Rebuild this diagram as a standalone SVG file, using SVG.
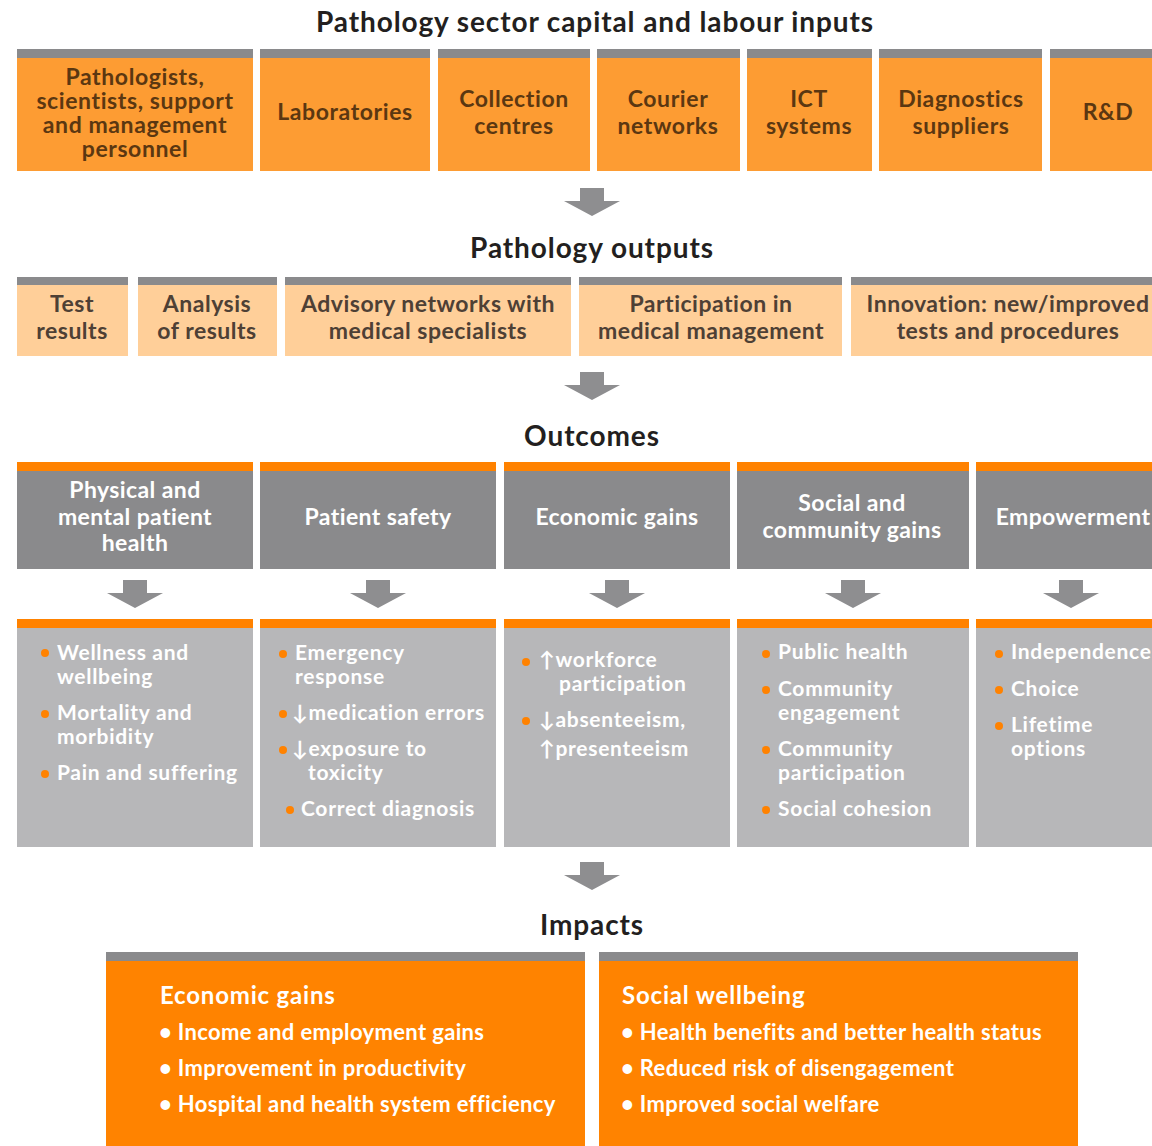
<svg xmlns="http://www.w3.org/2000/svg" width="1152" height="1146" viewBox="0 0 1152 1146">
<defs>
<style>
text{font-family:Lato,"Open Sans","Liberation Sans",sans-serif;font-weight:bold}
.title{font-size:28px;letter-spacing:0.9px;fill:#231f20;text-anchor:middle}
.in{fill:#fd9c33}
.out{fill:#ffcf99}
.bar{fill:#8a8a8c}
.obar{fill:#ff8200}
.hd{fill:#8a8a8c}
.bl{fill:#b7b7b9}
.imp{fill:#ff8300}
.t1{font-size:23px;letter-spacing:0.6px;fill:#5b3711;text-anchor:middle}
.t2{font-size:23px;letter-spacing:0.5px;fill:#4e4035;text-anchor:middle}
.t3{font-size:23px;letter-spacing:0.4px;fill:#fff;text-anchor:middle}
.t4{font-size:21px;letter-spacing:0.7px;fill:#fff}
.t5{font-size:22px;letter-spacing:0.35px;fill:#fff}
.t6{font-size:24px;letter-spacing:0.8px;fill:#fff}
.dot{fill:#ff8200}
.arr{fill:#8e8e90}
</style>
<path id="arrow" d="M-12,0 H12 V13 H28 L0,28 L-28,13 H-12 Z"/>
</defs>

<text class="title" x="595" y="32">Pathology sector capital and labour inputs</text>
<text class="title" x="592" y="258">Pathology outputs</text>
<text class="title" x="592" y="446">Outcomes</text>
<text class="title" x="592" y="935">Impacts</text>

<!-- Row 1: inputs -->
<g id="in-personnel"><rect class="bar" x="17" y="49" width="236" height="9"/><rect class="in" x="17" y="58" width="236" height="113"/>
<text class="t1" x="135"><tspan x="135" y="85">Pathologists,</tspan><tspan x="135" y="109">scientists, support</tspan><tspan x="135" y="133">and management</tspan><tspan x="135" y="157">personnel</tspan></text></g>
<g id="in-labs"><rect class="bar" x="260" y="49" width="170" height="9"/><rect class="in" x="260" y="58" width="170" height="113"/>
<text class="t1" x="345" y="120">Laboratories</text></g>
<g id="in-collection"><rect class="bar" x="438" y="49" width="152" height="9"/><rect class="in" x="438" y="58" width="152" height="113"/>
<text class="t1"><tspan x="514" y="107">Collection</tspan><tspan x="514" y="134">centres</tspan></text></g>
<g id="in-courier"><rect class="bar" x="597" y="49" width="143" height="9"/><rect class="in" x="597" y="58" width="143" height="113"/>
<text class="t1"><tspan x="668" y="107">Courier</tspan><tspan x="668" y="134">networks</tspan></text></g>
<g id="in-ict"><rect class="bar" x="747" y="49" width="125" height="9"/><rect class="in" x="747" y="58" width="125" height="113"/>
<text class="t1"><tspan x="809" y="107">ICT</tspan><tspan x="809" y="134">systems</tspan></text></g>
<g id="in-diag"><rect class="bar" x="879" y="49" width="163" height="9"/><rect class="in" x="879" y="58" width="163" height="113"/>
<text class="t1"><tspan x="961" y="107">Diagnostics</tspan><tspan x="961" y="134">suppliers</tspan></text></g>
<g id="in-rd"><rect class="bar" x="1050" y="49" width="102" height="9"/><rect class="in" x="1050" y="58" width="102" height="113"/>
<text class="t1" x="1108" y="120">R&amp;D</text></g>

<!-- Row 2: outputs -->
<g id="out-test"><rect class="bar" x="17" y="277" width="111" height="8"/><rect class="out" x="17" y="285" width="111" height="71"/>
<text class="t2"><tspan x="72" y="312">Test</tspan><tspan x="72" y="339">results</tspan></text></g>
<g id="out-analysis"><rect class="bar" x="138" y="277" width="139" height="8"/><rect class="out" x="138" y="285" width="139" height="71"/>
<text class="t2"><tspan x="207" y="312">Analysis</tspan><tspan x="207" y="339">of results</tspan></text></g>
<g id="out-advisory"><rect class="bar" x="285" y="277" width="286" height="8"/><rect class="out" x="285" y="285" width="286" height="71"/>
<text class="t2"><tspan x="428" y="312">Advisory networks with</tspan><tspan x="428" y="339">medical specialists</tspan></text></g>
<g id="out-participation"><rect class="bar" x="579" y="277" width="263" height="8"/><rect class="out" x="579" y="285" width="263" height="71"/>
<text class="t2"><tspan x="711" y="312">Participation in</tspan><tspan x="711" y="339">medical management</tspan></text></g>
<g id="out-innovation"><rect class="bar" x="851" y="277" width="301" height="8"/><rect class="out" x="851" y="285" width="301" height="71"/>
<text class="t2"><tspan x="1008" y="312">Innovation: new/improved</tspan><tspan x="1008" y="339">tests and procedures</tspan></text></g>

<!-- Row 3: outcome headers -->
<g id="oc-health"><rect class="obar" x="17" y="462" width="236" height="9"/><rect class="hd" x="17" y="471" width="236" height="98"/>
<text class="t3"><tspan x="135" y="498">Physical and</tspan><tspan x="135" y="525">mental patient</tspan><tspan x="135" y="551">health</tspan></text></g>
<g id="oc-safety"><rect class="obar" x="260" y="462" width="236" height="9"/><rect class="hd" x="260" y="471" width="236" height="98"/>
<text class="t3" x="378" y="525">Patient safety</text></g>
<g id="oc-economic"><rect class="obar" x="504" y="462" width="226" height="9"/><rect class="hd" x="504" y="471" width="226" height="98"/>
<text class="t3" x="617" y="525">Economic gains</text></g>
<g id="oc-social"><rect class="obar" x="737" y="462" width="232" height="9"/><rect class="hd" x="737" y="471" width="232" height="98"/>
<text class="t3"><tspan x="852" y="511">Social and</tspan><tspan x="852" y="538">community gains</tspan></text></g>
<g id="oc-empower"><rect class="obar" x="976" y="462" width="176" height="9"/><rect class="hd" x="976" y="471" width="176" height="98"/>
<text class="t3" x="1073" y="525">Empowerment</text></g>

<!-- Row 4: outcome details -->
<g id="od-health"><rect class="obar" x="17" y="619" width="236" height="9"/><rect class="bl" x="17" y="628" width="236" height="219"/>
<circle class="dot" cx="45" cy="653" r="4"/><circle class="dot" cx="45" cy="714" r="4"/><circle class="dot" cx="45" cy="774" r="4"/>
<text class="t4"><tspan x="57" y="660">Wellness and</tspan><tspan x="57" y="684">wellbeing</tspan><tspan x="57" y="720">Mortality and</tspan><tspan x="57" y="744">morbidity</tspan><tspan x="57" y="780">Pain and suffering</tspan></text></g>
<g id="od-safety"><rect class="obar" x="260" y="619" width="236" height="9"/><rect class="bl" x="260" y="628" width="236" height="219"/>
<circle class="dot" cx="283" cy="654" r="4"/><circle class="dot" cx="283" cy="714" r="4"/><circle class="dot" cx="283" cy="750" r="4"/><circle class="dot" cx="290" cy="810" r="4"/>
<text class="t4"><tspan x="295" y="660">Emergency</tspan><tspan x="295" y="684">response</tspan><tspan x="292" y="720">↓medication errors</tspan><tspan x="292" y="756">↓exposure to</tspan><tspan x="308" y="780">toxicity</tspan><tspan x="301" y="816">Correct diagnosis</tspan></text></g>
<g id="od-economic"><rect class="obar" x="504" y="619" width="226" height="9"/><rect class="bl" x="504" y="628" width="226" height="219"/>
<circle class="dot" cx="526" cy="662" r="4"/><circle class="dot" cx="526" cy="721" r="4"/>
<text class="t4"><tspan x="539" y="667">↑workforce</tspan><tspan x="559" y="691">participation</tspan><tspan x="539" y="727">↓absenteeism,</tspan><tspan x="539" y="756">↑presenteeism</tspan></text></g>
<g id="od-social"><rect class="obar" x="737" y="619" width="232" height="9"/><rect class="bl" x="737" y="628" width="232" height="219"/>
<circle class="dot" cx="766" cy="654" r="4"/><circle class="dot" cx="766" cy="690" r="4"/><circle class="dot" cx="766" cy="750" r="4"/><circle class="dot" cx="766" cy="810" r="4"/>
<text class="t4"><tspan x="778" y="659">Public health</tspan><tspan x="778" y="696">Community</tspan><tspan x="778" y="720">engagement</tspan><tspan x="778" y="756">Community</tspan><tspan x="778" y="780">participation</tspan><tspan x="778" y="816">Social cohesion</tspan></text></g>
<g id="od-empower"><rect class="obar" x="976" y="619" width="176" height="9"/><rect class="bl" x="976" y="628" width="176" height="219"/>
<circle class="dot" cx="999" cy="654" r="4"/><circle class="dot" cx="999" cy="690" r="4"/><circle class="dot" cx="999" cy="726" r="4"/>
<text class="t4"><tspan x="1011" y="659">Independence</tspan><tspan x="1011" y="696">Choice</tspan><tspan x="1011" y="732">Lifetime</tspan><tspan x="1011" y="756">options</tspan></text></g>

<!-- Impacts -->
<g id="imp-economic"><rect class="bar" x="106" y="952" width="479" height="9"/><rect class="imp" x="106" y="961" width="479" height="185"/>
<text class="t6" x="160" y="1004">Economic gains</text>
<text class="t5"><tspan x="159" y="1040">• Income and employment gains</tspan><tspan x="159" y="1076">• Improvement in productivity</tspan><tspan x="159" y="1112">• Hospital and health system efficiency</tspan></text></g>
<g id="imp-social"><rect class="bar" x="599" y="952" width="479" height="9"/><rect class="imp" x="599" y="961" width="479" height="185"/>
<text class="t6" x="622" y="1004">Social wellbeing</text>
<text class="t5"><tspan x="621" y="1040">• Health benefits and better health status</tspan><tspan x="621" y="1076">• Reduced risk of disengagement</tspan><tspan x="621" y="1112">• Improved social welfare</tspan></text></g>

<!-- Connectors -->
<g id="connectors" class="arr">
<use href="#arrow" x="592" y="188"/>
<use href="#arrow" x="592" y="372"/>
<use href="#arrow" x="135" y="580"/>
<use href="#arrow" x="378" y="580"/>
<use href="#arrow" x="617" y="580"/>
<use href="#arrow" x="853" y="580"/>
<use href="#arrow" x="1071" y="580"/>
<use href="#arrow" x="592" y="862"/>
</g>
</svg>
